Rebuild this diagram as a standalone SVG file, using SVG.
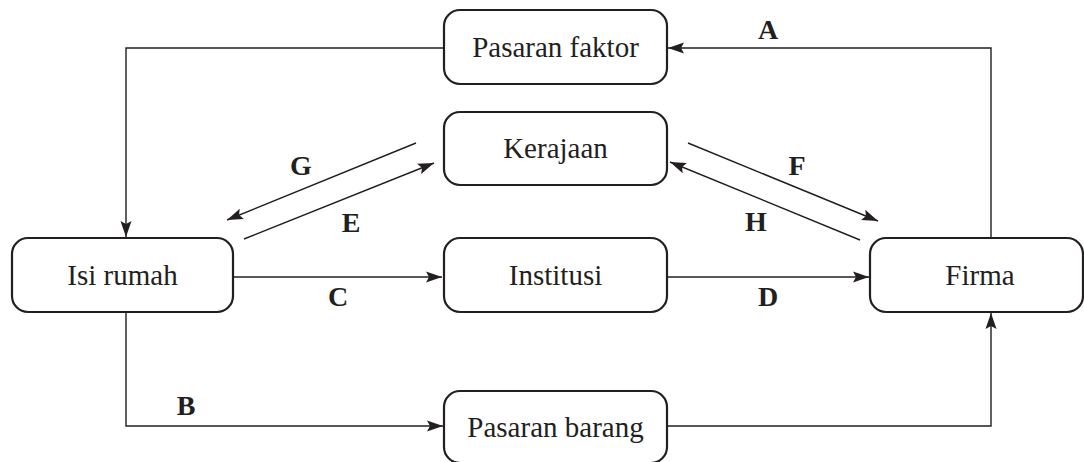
<svg xmlns="http://www.w3.org/2000/svg" width="1084" height="462" viewBox="0 0 1084 462">
<style>
.box{fill:#fff;stroke:#231f20;stroke-width:2.2}
.t{font-family:"Liberation Serif","Times New Roman",serif;font-size:29px;fill:#231f20;text-anchor:middle}
.l{font-family:"Liberation Serif","Times New Roman",serif;font-size:28px;font-weight:bold;fill:#231f20;text-anchor:middle}
.c{fill:none;stroke:#231f20;stroke-width:1.4}
</style>
<defs>
<marker id="ah" markerUnits="userSpaceOnUse" markerWidth="18" markerHeight="12" refX="16" refY="6" orient="auto">
<path d="M0,0.5 L16,6 L0,11.5 L3,6 z" fill="#231f20"/>
</marker>
</defs>
<rect width="1084" height="462" fill="#fff"/>
<g id="connectors">
<path class="c" d="M444,48 H126 V237" marker-end="url(#ah)"/>
<path class="c" d="M991,238 V48 H668" marker-end="url(#ah)"/>
<path class="c" d="M126,312 V426 H443" marker-end="url(#ah)"/>
<path class="c" d="M667,426 H991 V313" marker-end="url(#ah)"/>
<path class="c" d="M233,277 H442" marker-end="url(#ah)"/>
<path class="c" d="M667,277 H869" marker-end="url(#ah)"/>
<path class="c" d="M416,143 L227,220" marker-end="url(#ah)"/>
<path class="c" d="M244,239 L434,163" marker-end="url(#ah)"/>
<path class="c" d="M688,143 L878,221" marker-end="url(#ah)"/>
<path class="c" d="M860,240 L670,162" marker-end="url(#ah)"/>
</g>
<g id="labels">
<text class="l" x="768" y="39">A</text>
<text class="l" x="186" y="415">B</text>
<text class="l" x="338" y="306">C</text>
<text class="l" x="768" y="306">D</text>
<text class="l" x="351" y="232">E</text>
<text class="l" x="797" y="175">F</text>
<text class="l" x="301" y="175">G</text>
<text class="l" x="756" y="231">H</text>
</g>
<g id="pasaran-faktor">
<rect class="box" x="444" y="10" width="223" height="74" rx="16"/>
<text class="t" x="555.5" y="57">Pasaran faktor</text>
</g>
<g id="kerajaan">
<rect class="box" x="444" y="112" width="223" height="73" rx="16"/>
<text class="t" x="555.5" y="158">Kerajaan</text>
</g>
<g id="isi-rumah">
<rect class="box" x="12" y="238" width="221" height="74" rx="16"/>
<text class="t" x="122.5" y="285">Isi rumah</text>
</g>
<g id="institusi">
<rect class="box" x="444" y="238" width="223" height="74" rx="16"/>
<text class="t" x="555.5" y="285">Institusi</text>
</g>
<g id="firma">
<rect class="box" x="870" y="238" width="213" height="74" rx="16"/>
<text class="t" x="980" y="285">Firma</text>
</g>
<g id="pasaran-barang">
<rect class="box" x="444" y="391" width="223" height="72" rx="16"/>
<text class="t" x="555.5" y="437">Pasaran barang</text>
</g>
</svg>
